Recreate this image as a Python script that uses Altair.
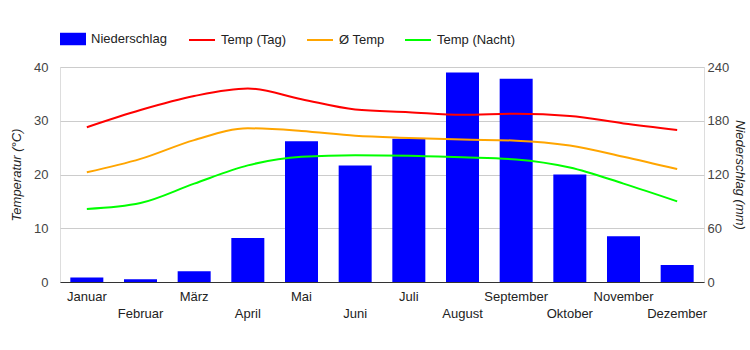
import altair as alt
import pandas as pd

months = ["Januar", "Februar", "März", "April", "Mai", "Juni", "Juli",
          "August", "September", "Oktober", "November", "Dezember"]
niederschlag = [5, 3, 12, 49, 157, 130, 160, 234, 227, 120, 51, 19]
temp_tag = [28.8, 32.0, 34.6, 36.0, 34.0, 32.1, 31.6, 31.1, 31.3, 30.9, 29.5, 28.3]
temp_avg = [20.4, 22.9, 26.4, 28.6, 28.1, 27.2, 26.8, 26.5, 26.3, 25.4, 23.3, 21.0]
temp_nacht = [13.6, 14.7, 18.3, 21.7, 23.3, 23.6, 23.5, 23.2, 22.8, 21.3, 18.3, 15.0]

bar_series = ["Niederschlag"]
bar_colors = ["#0000ff"]
line_series = ["Temp (Tag)", "Ø Temp", "Temp (Nacht)"]
line_colors = ["#ff0000", "#ffa500", "#00ff00"]
temp_ticks = [0, 10, 20, 30, 40]
rain_ticks = [0, 60, 120, 180, 240]

df_bar = pd.DataFrame({"Monat": months, "Wert": niederschlag, "Serie": bar_series[0]})
rows = []
for name, vals in zip(line_series, [temp_tag, temp_avg, temp_nacht]):
    for m, v in zip(months, vals):
        rows.append({"Monat": m, "Temp": v, "Serie": name})
df_lines = pd.DataFrame(rows)

FONT = "Liberation Sans"
month_arr = "[" + ",".join("'" + m + "'" for m in months) + "]"
label_expr = f"indexof({month_arr}, datum.value) % 2 == 1 ? ['', datum.label] : datum.label"

x_enc = alt.X(
    "Monat:N", sort=months, title=None,
    scale=alt.Scale(paddingInner=0.385, paddingOuter=0.1925),
    axis=alt.Axis(labelExpr=label_expr, labelAngle=0, labelFont=FONT, labelFontSize=13,
                  labelColor="#222222", labelPadding=8, labelLineHeight=17,
                  labelBaseline="top", ticks=False, domainColor="#333333",
                  domainWidth=1, grid=False),
)

legend_common = dict(
    orient="none", legendY=-41, direction="horizontal", title=None,
    labelFont=FONT, labelFontSize=13, labelColor="#222222", labelOffset=5,
    columnPadding=16, symbolSize=676, padding=0,
)

bars = alt.Chart(df_bar).mark_bar().encode(
    x=x_enc,
    y=alt.Y("Wert:Q", scale=alt.Scale(domain=[0, 240], nice=False),
            axis=alt.Axis(orient="right", values=rain_ticks, grid=False, ticks=False,
                          domain=False, labelFont=FONT, labelFontSize=13,
                          labelColor="#444444", labelPadding=3,
                          title="Niederschlag (mm)", titleFont=FONT, titleFontSize=13,
                          titleFontStyle="italic", titleFontWeight="normal",
                          titleColor="#222222", titlePadding=4)),
    fill=alt.Fill("Serie:N", scale=alt.Scale(domain=bar_series, range=bar_colors),
                  legend=alt.Legend(legendX=0, symbolType="M-1,-0.48H1V0.48H-1Z",
                                    symbolStrokeWidth=0, **legend_common)),
)

lines = alt.Chart(df_lines).mark_line(interpolate="monotone", strokeWidth=2).encode(
    x=x_enc,
    y=alt.Y("Temp:Q", scale=alt.Scale(domain=[0, 40], nice=False),
            axis=alt.Axis(orient="left", values=temp_ticks, grid=True, gridColor="#cccccc",
                          ticks=False, domain=False, labelFont=FONT, labelFontSize=13,
                          labelColor="#444444", labelPadding=12,
                          title="Temperatur (°C)", titleFont=FONT, titleFontSize=13,
                          titleFontStyle="italic", titleFontWeight="normal",
                          titleColor="#222222", titlePadding=10)),
    stroke=alt.Stroke("Serie:N", scale=alt.Scale(domain=line_series, range=line_colors),
                      sort=line_series,
                      legend=alt.Legend(legendX=128, symbolType="stroke",
                                        symbolStrokeWidth=2, **legend_common)),
)

chart = alt.layer(bars, lines).resolve_scale(y="independent").properties(
    width=644, height=215, autosize="none",
    padding={"left": 60, "top": 67, "right": 46, "bottom": 68},
).configure_view(stroke=None).configure(background="white")

chart.save("out.html", embed_options={"renderer": "svg", "actions": False})
